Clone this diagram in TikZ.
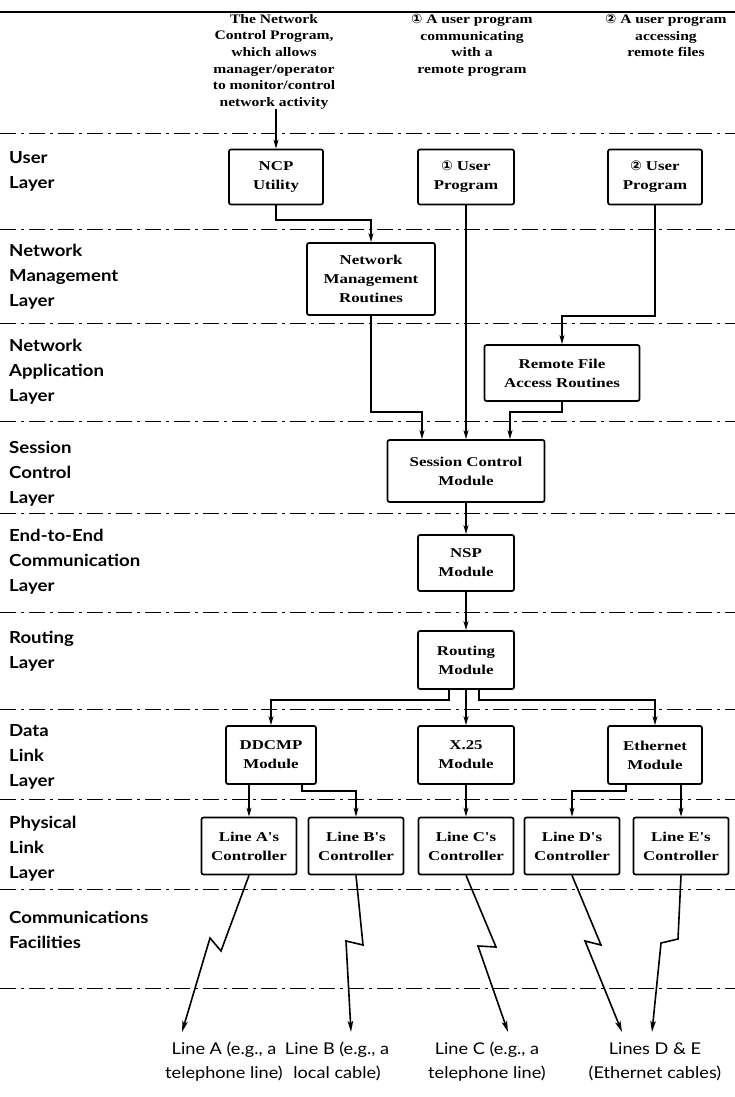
\documentclass[tikz,border=0pt]{standalone}
\usepackage{fontspec}
\setmainfont{Liberation Serif}
\newfontfamily\labelfont[FakeStretch=1.12]{Lato}
\newfontfamily\boxfont[FakeStretch=1.25]{Liberation Serif}
\newfontfamily\descfont[FakeStretch=1.2]{Liberation Serif}
\newfontfamily\circfont{DejaVu Sans}
\usetikzlibrary{arrows.meta,calc}

\newcommand{\circone}{{\circfont\bfseries ①}}
\newcommand{\circtwo}{{\circfont\bfseries ②}}

\tikzset{
  unit/.style={draw, line width=1.7pt, rounded corners=2pt, align=center,
    inner sep=0pt, font=\boxfont\bfseries\fontsize{13.5}{19}\selectfont},
  conn/.style={line width=1.3pt, -{Stealth[length=9pt,width=5pt,inset=2.5pt]}},
  bolt/.style={line width=1.6pt, line join=miter, -{Stealth[length=11pt,width=5.5pt,inset=2.5pt]}},
  sep/.style={line width=0.8pt, dash pattern=on 16pt off 5pt on 3pt off 5pt},
  layerlab/.style={anchor=north west, align=left, inner sep=0pt,
    font=\labelfont\bfseries\fontsize{16.6}{25}\selectfont},
  desc/.style={anchor=north, align=center, inner sep=0pt,
    font=\descfont\bfseries\fontsize{13}{16.6}\selectfont},
  linelab/.style={anchor=south, align=center, inner sep=0pt,
    font=\labelfont\fontsize{16.2}{24}\selectfont},
}

\begin{document}
\begin{tikzpicture}[x=1pt,y=-1pt]
  \fill[white] (0,0) rectangle (735,1097);
  \useasboundingbox (0,0) rectangle (735,1097);

  % top rule and layer boundaries
  \draw[line width=2.8pt] (0,12) -- (735,12);
  \foreach \yy in {133,229,323,421,513,612,709,799,889,988}
    \draw[sep] (0,\yy) -- (735,\yy);

  % layer names
  \node[layerlab] (lUser) at (9,151) {User\\Layer};
  \node[layerlab] (lNM)   at (9,244) {Network\\Management\\Layer};
  \node[layerlab] (lNA)   at (9,339) {Network\\Application\\Layer};
  \node[layerlab] (lSC)   at (9,441) {Session\\Control\\Layer};
  \node[layerlab] (lEE)   at (9,529) {End-to-End\\Communication\\Layer};
  \node[layerlab] (lR)    at (9,631) {Routing\\Layer};
  \node[layerlab] (lDL)   at (9,724) {Data\\Link\\Layer};
  \node[layerlab] (lPL)   at (9,816) {Physical\\Link\\Layer};
  \node[layerlab] (lCF)   at (9,911) {Communications\\Facilities};

  % descriptions of the three kinds of users
  \node[desc] (dNCP) at (274,14) {The Network\\Control Program,\\which allows\\manager/operator\\to monitor/control\\network activity};
  \node[desc] (dOne) at (472,14) {\circone\ A user program\\communicating\\with a\\remote program};
  \node[desc] (dTwo) at (666,14) {\circtwo\ A user program\\accessing\\remote files};

  % modules
  \node[unit, minimum width=94pt,  minimum height=55pt] (ncp)   at (276,177) {NCP\\Utility};
  \node[unit, minimum width=96pt,  minimum height=55pt] (up1)   at (466,177) {\circone\ User\\Program};
  \node[unit, minimum width=94pt,  minimum height=55pt] (up2)   at (655,177) {\circtwo\ User\\Program};
  \node[unit, minimum width=128pt, minimum height=72pt] (nm)    at (371,279) {Network\\Management\\Routines};
  \node[unit, minimum width=155pt, minimum height=56pt] (rfa)   at (562,373) {Remote File\\Access Routines};
  \node[unit, minimum width=157pt, minimum height=62pt] (scm)   at (466,471) {Session Control\\Module};
  \node[unit, minimum width=96pt,  minimum height=56pt] (nsp)   at (466,563) {NSP\\Module};
  \node[unit, minimum width=96pt,  minimum height=58pt] (rout)  at (466,660) {Routing\\Module};
  \node[unit, minimum width=90pt,  minimum height=58pt] (ddcmp) at (271,755) {DDCMP\\Module};
  \node[unit, minimum width=96pt,  minimum height=58pt] (xtf)   at (466,755) {X.25\\Module};
  \node[unit, minimum width=94pt,  minimum height=58pt] (eth)   at (655,755) {Ethernet\\Module};
  \node[unit, minimum width=95pt,  minimum height=57pt] (ctlA)  at (249,846) {Line A's\\Controller};
  \node[unit, minimum width=95pt,  minimum height=57pt] (ctlB)  at (356,846) {Line B's\\Controller};
  \node[unit, minimum width=95pt,  minimum height=57pt] (ctlC)  at (466,846) {Line C's\\Controller};
  \node[unit, minimum width=95pt,  minimum height=57pt] (ctlD)  at (572,846) {Line D's\\Controller};
  \node[unit, minimum width=95pt,  minimum height=57pt] (ctlE)  at (681,846) {Line E's\\Controller};

  % jog levels of the connectors
  \coordinate (jNCP) at (0,220);
  \coordinate (jTwo) at (0,316);
  \coordinate (jSC)  at (0,412);
  \coordinate (jR)   at (0,700);
  \coordinate (jDL)  at (0,791);

  % connectors between layers
  \draw[conn] (ncp.north |- dNCP.south) -- (ncp.north);
  \draw[conn] (ncp.south) -- (ncp.south |- jNCP) -| (nm.north);
  \draw[conn] (up1.south) -- (scm.north);
  \draw[conn] (up2.south) -- (up2.south |- jTwo) -| (rfa.north);
  \draw[conn] (nm.south) -- (nm.south |- jSC) -| ($(scm.north)+(-44,0)$);
  \draw[conn] (rfa.south) -- (rfa.south |- jSC) -| ($(scm.north)+(44,0)$);
  \draw[conn] (scm.south) -- (nsp.north);
  \draw[conn] (nsp.south) -- (rout.north);
  \draw[conn] ($(rout.south)+(-17,0)$) -- ($(rout.south |- jR)+(-17,0)$) -| (ddcmp.north);
  \draw[conn] (rout.south) -- (xtf.north);
  \draw[conn] ($(rout.south)+(13,0)$) -- ($(rout.south |- jR)+(13,0)$) -| (eth.north);
  \draw[conn] (ctlA.north |- ddcmp.south) -- (ctlA.north);
  \draw[conn] ($(ddcmp.south)+(31,0)$) -- ($(ddcmp.south |- jDL)+(31,0)$) -| (ctlB.north);
  \draw[conn] (xtf.south) -- (ctlC.north);
  \draw[conn] ($(eth.south)+(-29,0)$) -- ($(eth.south |- jDL)+(-29,0)$) -| (ctlD.north);
  \draw[conn] (ctlE.north |- eth.south) -- (ctlE.north);

  % communications lines leaving the controllers
  \coordinate (tA) at (182,1032);
  \coordinate (tB) at (351,1032);
  \coordinate (tC) at (508,1032);
  \coordinate (tD) at (622,1032);
  \coordinate (tE) at (652,1032);
  \draw[bolt] (ctlA.south) -- (221,951) -- (210,938) -- (tA);
  \draw[bolt] (ctlB.south) -- (363,945) -- (346,941) -- (tB);
  \draw[bolt] (ctlC.south) -- (496,947) -- (478,946) -- (tC);
  \draw[bolt] (ctlD.south) -- (601,945) -- (585,941) -- (tD);
  \draw[bolt] (ctlE.south) -- (678,939) -- (661,943) -- (tE);

  % names of the lines
  \node[linelab] (nA) at (224,1081) {Line A (e.g., a\\telephone line)};
  \node[linelab] (nB) at (337,1081) {Line B (e.g., a\\local cable)};
  \node[linelab] (nC) at (487,1081) {Line C (e.g., a\\telephone line)};
  \node[linelab] (nDE) at (655,1081) {Lines D \& E\\(Ethernet cables)};
\end{tikzpicture}
\end{document}
